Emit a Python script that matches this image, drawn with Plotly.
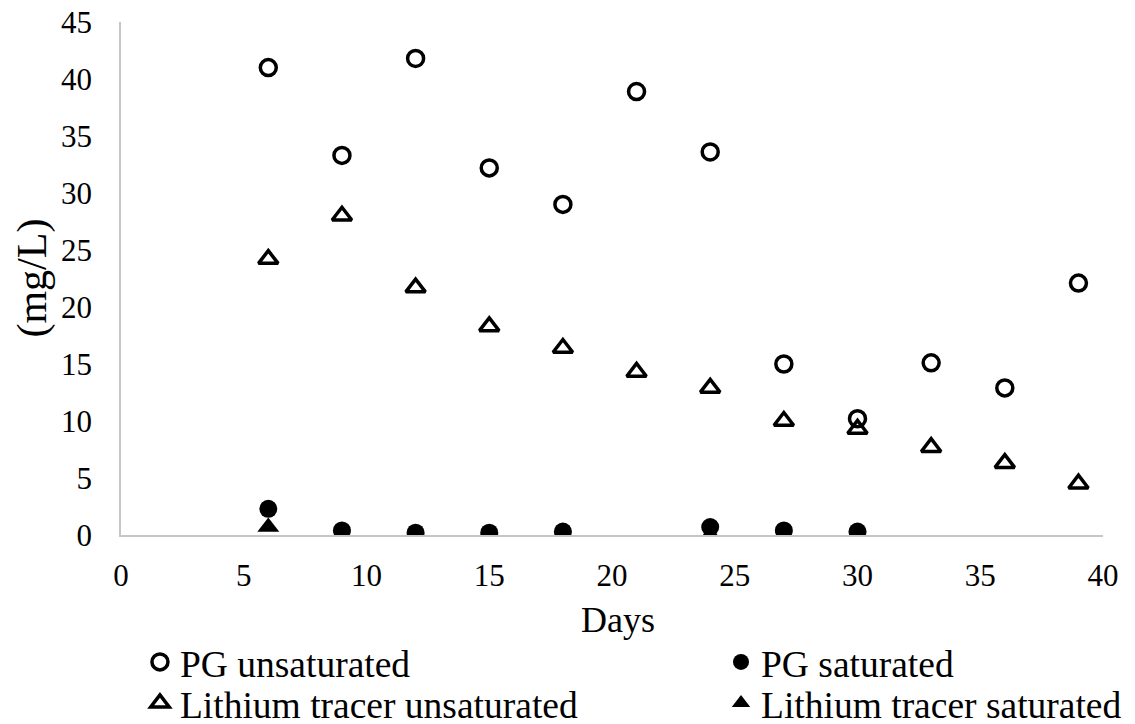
import plotly.graph_objects as go

days_pg_unsat = [6, 9, 12, 15, 18, 21, 24, 27, 30, 33, 36, 39]
pg_unsat = [41.0, 33.3, 41.8, 32.2, 29.0, 38.9, 33.6, 15.0, 10.2, 15.1, 12.9, 22.1]

days_pg_sat = [6, 9, 12, 15, 18, 24, 27, 30]
pg_sat = [2.3, 0.4, 0.2, 0.2, 0.3, 0.7, 0.4, 0.3]

days_li_unsat = [6, 9, 12, 15, 18, 21, 24, 27, 30, 33, 36, 39]
li_unsat = [24.2, 28.0, 21.7, 18.3, 16.4, 14.3, 12.9, 10.0, 9.3, 7.7, 6.3, 4.5]

days_li_sat = [6, 9, 12, 15, 18, 24, 27, 30]
li_sat = [0.7, 0.0, 0.0, 0.0, 0.0, 0.0, 0.0, 0.0]

x_ticks = [0, 5, 10, 15, 20, 25, 30, 35, 40]
y_ticks = [0, 5, 10, 15, 20, 25, 30, 35, 40, 45]

x_title = "Days"
y_title = "(mg/L)"

FONT = "Liberation Serif"

fig = go.Figure()
fig.add_trace(go.Scatter(
    x=days_pg_unsat, y=pg_unsat, mode="markers", name="PG unsaturated",
    marker=dict(symbol="circle-open", size=16, color="black", line=dict(width=3.5, color="black")),
    legend="legend"))
fig.add_trace(go.Scatter(
    x=days_pg_sat, y=pg_sat, mode="markers", name="PG saturated",
    marker=dict(symbol="circle", size=18, color="black"),
    legend="legend2"))
fig.add_trace(go.Scatter(
    x=days_li_unsat, y=li_unsat, mode="markers", name="Lithium tracer unsaturated",
    marker=dict(symbol="triangle-up-open", size=17, color="black", line=dict(width=3.5, color="black")),
    legend="legend3"))
fig.add_trace(go.Scatter(
    x=days_li_sat, y=li_sat, mode="markers", name="Lithium tracer saturated",
    marker=dict(symbol="triangle-up", size=19, color="black"),
    legend="legend4"))

def leg(x, y):
    return dict(
        orientation="v", xref="paper", yref="container", x=x, y=y,
        xanchor="left", yanchor="middle",
        font=dict(family=FONT, size=37.5, color="black"),
        bgcolor="rgba(0,0,0,0)", borderwidth=0, tracegroupgap=0,
        itemsizing="trace",
    )

fig.update_layout(
    width=1135, height=724,
    margin=dict(l=121, r=32, t=22, b=189, autoexpand=False),
    paper_bgcolor="white", plot_bgcolor="white",
    font=dict(family=FONT, size=31, color="black"),
    showlegend=True,
    legend=leg(0.0193, 1 - 662 / 724),
    legend2=leg(0.611, 1 - 662 / 724),
    legend3=leg(0.0193, 1 - 703 / 724),
    legend4=leg(0.611, 1 - 703 / 724),
    xaxis=dict(
        range=[0, 40], tickvals=x_ticks, ticktext=[str(v) for v in x_ticks],
        showgrid=False, zeroline=False, showline=True, linecolor="#c6c6c6", linewidth=1.5,
        ticks="", ticklabelstandoff=12,
        tickfont=dict(family=FONT, size=31, color="black"),
    ),
    yaxis=dict(
        range=[0, 45], tickvals=y_ticks, ticktext=[str(v) for v in y_ticks],
        showgrid=False, zeroline=False, showline=True, linecolor="#c6c6c6", linewidth=1.5,
        ticks="", ticklabelstandoff=21,
        tickfont=dict(family=FONT, size=31, color="black"),
    ),
    annotations=[
        dict(text=x_title, xref="paper", yref="paper", x=0.506, y=-0.1657,
             xanchor="center", yanchor="middle", showarrow=False,
             font=dict(family=FONT, size=36, color="black")),
        dict(text=y_title, xref="paper", yref="paper", x=-0.0906, y=0.5,
             xanchor="center", yanchor="middle", showarrow=False, textangle=-90,
             font=dict(family=FONT, size=42, color="black")),
    ],
)

fig.write_html("out.html")
